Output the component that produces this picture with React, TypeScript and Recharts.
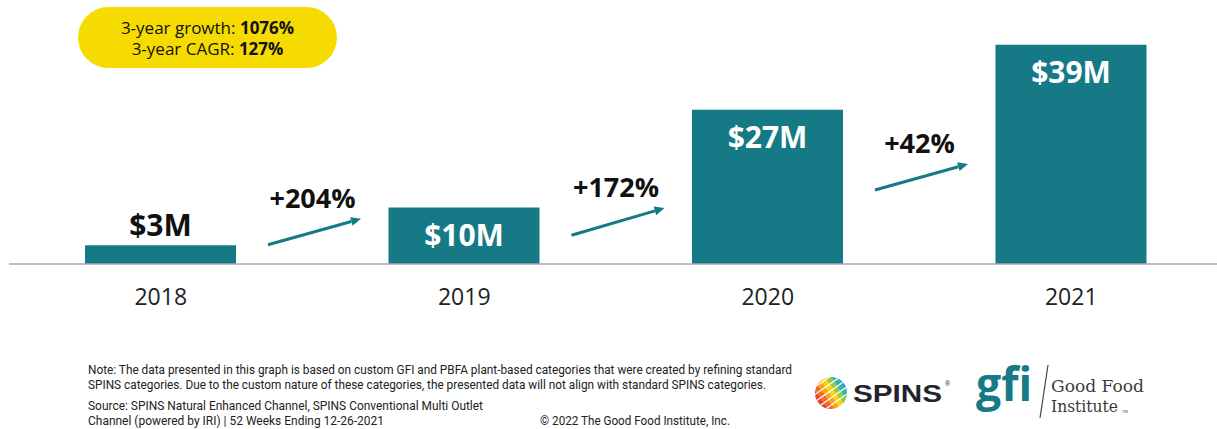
import { BarChart, Bar, XAxis, YAxis, LabelList } from 'recharts';

// plant-based retail sales, $ millions
const YEARS = ['2018', '2019', '2020', '2021'];
const SALES = [3.3, 10.0, 27.3, 38.8];
const SALES_LABELS = ['$3M', '$10M', '$27M', '$39M'];

// year-over-year growth between consecutive bars
const GROWTH_LABELS = ['+204%', '+172%', '+42%'];
// arrow start / end levels, in $M on the value axis
const ARROW_FROM = [3.4, 5.1, 13.1];
const ARROW_TO = [8.0, 9.9, 17.7];

const TEAL = '#167a86';
const FONT = '"Open Sans", sans-serif';

const data = YEARS.map((year, i) => ({ year, sales: SALES[i] }));

const idxOf = (props: any) =>
  typeof props.index === 'number' ? props.index : SALES.indexOf(Number(props.value));

const ValueLabel = (props: any) => {
  const { x, y, width } = props;
  const i = idxOf(props);
  const outside = i === 0;
  return (
    <text
      x={x + width / 2}
      y={outside ? y - 9 : y + 38}
      textAnchor="middle"
      fill={outside ? '#111' : '#fff'}
      fontSize={30}
      fontWeight={700}
      fontFamily={FONT}
    >
      {SALES_LABELS[i]}
    </text>
  );
};

const GrowthArrow = (props: any) => {
  const { x, y, width, height } = props;
  const i = idxOf(props);
  if (i < 0 || i >= GROWTH_LABELS.length) return null;
  const base = y + height;
  const k = height / SALES[i];
  const x0 = x + width + 32;
  const x1 = x + width + 125;
  const y0 = base - ARROW_FROM[i] * k;
  const y1 = base - ARROW_TO[i] * k;
  const ang = Math.atan2(y1 - y0, x1 - x0);
  const head = 10;
  const half = 4.5;
  const bx = x1 - head * Math.cos(ang);
  const by = y1 - head * Math.sin(ang);
  const px = -Math.sin(ang) * half;
  const py = Math.cos(ang) * half;
  return (
    <g>
      <line x1={x0} y1={y0} x2={bx} y2={by} stroke={TEAL} strokeWidth={3} />
      <polygon
        points={`${x1},${y1} ${bx + px},${by + py} ${bx - px},${by - py}`}
        fill={TEAL}
      />
      <text
        x={(x0 + x1) / 2 - 2}
        y={y1 - 11}
        textAnchor="middle"
        fill="#111"
        fontSize={27}
        fontWeight={700}
        fontFamily={FONT}
      >
        {GROWTH_LABELS[i]}
      </text>
    </g>
  );
};

const YearTick = ({ x, y, payload }: any) => (
  <text x={x} y={y + 41} textAnchor="middle" fill="#222" fontSize={23} fontFamily={FONT}>
    {payload.value}
  </text>
);

const GLOBE = ['#e8412c', '#f26b21', '#f9a51a', '#fcd116', '#9bc93c', '#2fb6a8', '#1b8ad1'];

function Footer() {
  const note = { fontFamily: 'Roboto, sans-serif', fontSize: 13, fill: '#222' };
  return (
    <svg
      width={1217}
      height={429}
      style={{ position: 'absolute', left: 0, top: 0, pointerEvents: 'none' }}
    >
      <text x={88} y={374} {...note} textLength={704} lengthAdjust="spacingAndGlyphs">
        Note: The data presented in this graph is based on custom GFI and PBFA plant-based categories that were created by refining standard
      </text>
      <text x={88} y={389} {...note} textLength={678} lengthAdjust="spacingAndGlyphs">
        SPINS categories. Due to the custom nature of these categories, the presented data will not align with standard SPINS categories.
      </text>
      <text x={88} y={410} {...note} textLength={395} lengthAdjust="spacingAndGlyphs">
        Source: SPINS Natural Enhanced Channel, SPINS Conventional Multi Outlet
      </text>
      <text x={88} y={425} {...note} textLength={296} lengthAdjust="spacingAndGlyphs">
        Channel (powered by IRI) | 52 Weeks Ending 12-26-2021
      </text>
      <text x={540} y={425} {...note} textLength={190} lengthAdjust="spacingAndGlyphs">
        © 2022 The Good Food Institute, Inc.
      </text>

      {/* SPINS logo */}
      <defs>
        <clipPath id="globe">
          <circle cx={831} cy={393} r={16} />
        </clipPath>
      </defs>
      <g clipPath="url(#globe)" transform="rotate(-35 831 393)">
        {GLOBE.map((c, i) => (
          <rect key={c} x={815 + i * 5} y={376} width={5} height={34} fill={c} />
        ))}
        {[0, 1, 2, 3, 4, 5].map((j) => (
          <line key={j} x1={812} x2={850} y1={379 + j * 6} y2={379 + j * 6} stroke="#fff" strokeWidth={1.2} />
        ))}
      </g>
      <text x={853} y={402} fontFamily="'Liberation Sans', Arial, sans-serif" fontWeight={700} fontSize={24} fill="#23232b" textLength={89} lengthAdjust="spacingAndGlyphs">
        SPINS
      </text>
      <text x={945} y={386} fontFamily="Arial, sans-serif" fontSize={7} fill="#23232b">®</text>

      {/* GFI logo */}
      <text x={976} y={401} fontFamily={FONT} fontWeight={700} fontSize={46} fill={TEAL} textLength={56} lengthAdjust="spacingAndGlyphs">
        gfi
      </text>
      <line x1={1040} y1={418} x2={1048} y2={365} stroke="#444" strokeWidth={1.2} />
      <text x={1051} y={392} fontFamily="'DejaVu Serif', serif" fontSize={17} fill="#3b3b3b" textLength={93} lengthAdjust="spacingAndGlyphs">
        Good Food
      </text>
      <text x={1051} y={412} fontFamily="'DejaVu Serif', serif" fontSize={17} fill="#3b3b3b" textLength={67} lengthAdjust="spacingAndGlyphs">
        Institute
      </text>
      <text x={1122} y={413} fontFamily="Arial, sans-serif" fontSize={4} fill="#3b3b3b">TM</text>
    </svg>
  );
}

export default function App() {
  return (
    <div
      style={{
        position: 'absolute',
        left: 0,
        top: 0,
        width: 1217,
        height: 429,
        overflow: 'hidden',
        background: '#fff',
      }}
    >
      <BarChart
        width={1225}
        height={429}
        data={data}
        margin={{ top: 38, right: 2, left: 9, bottom: 105 }}
      >
        <XAxis
          dataKey="year"
          axisLine={{ stroke: '#a8a8a8', strokeWidth: 1.5 }}
          tickLine={false}
          tickSize={0}
          tickMargin={0}
          interval={0}
          height={60}
          tick={<YearTick />}
        />
        <YAxis hide domain={[0, 40]} />
        <Bar dataKey="sales" fill={TEAL} barSize={151} isAnimationActive={false}>
          <LabelList dataKey="sales" content={<ValueLabel />} />
          <LabelList dataKey="sales" content={<GrowthArrow />} />
        </Bar>
      </BarChart>

      <div
        style={{
          position: 'absolute',
          left: 78,
          top: 7,
          width: 259,
          height: 61,
          borderRadius: 31,
          background: '#f6db00',
          display: 'flex',
          flexDirection: 'column',
          justifyContent: 'center',
          alignItems: 'center',
          fontFamily: FONT,
          fontSize: 17,
          lineHeight: '21px',
          color: '#111',
        }}
      >
        <div>
          3-year growth: <b>1076%</b>
        </div>
        <div>
          3-year CAGR: <b>127%</b>
        </div>
      </div>

      <Footer />
    </div>
  );
}
